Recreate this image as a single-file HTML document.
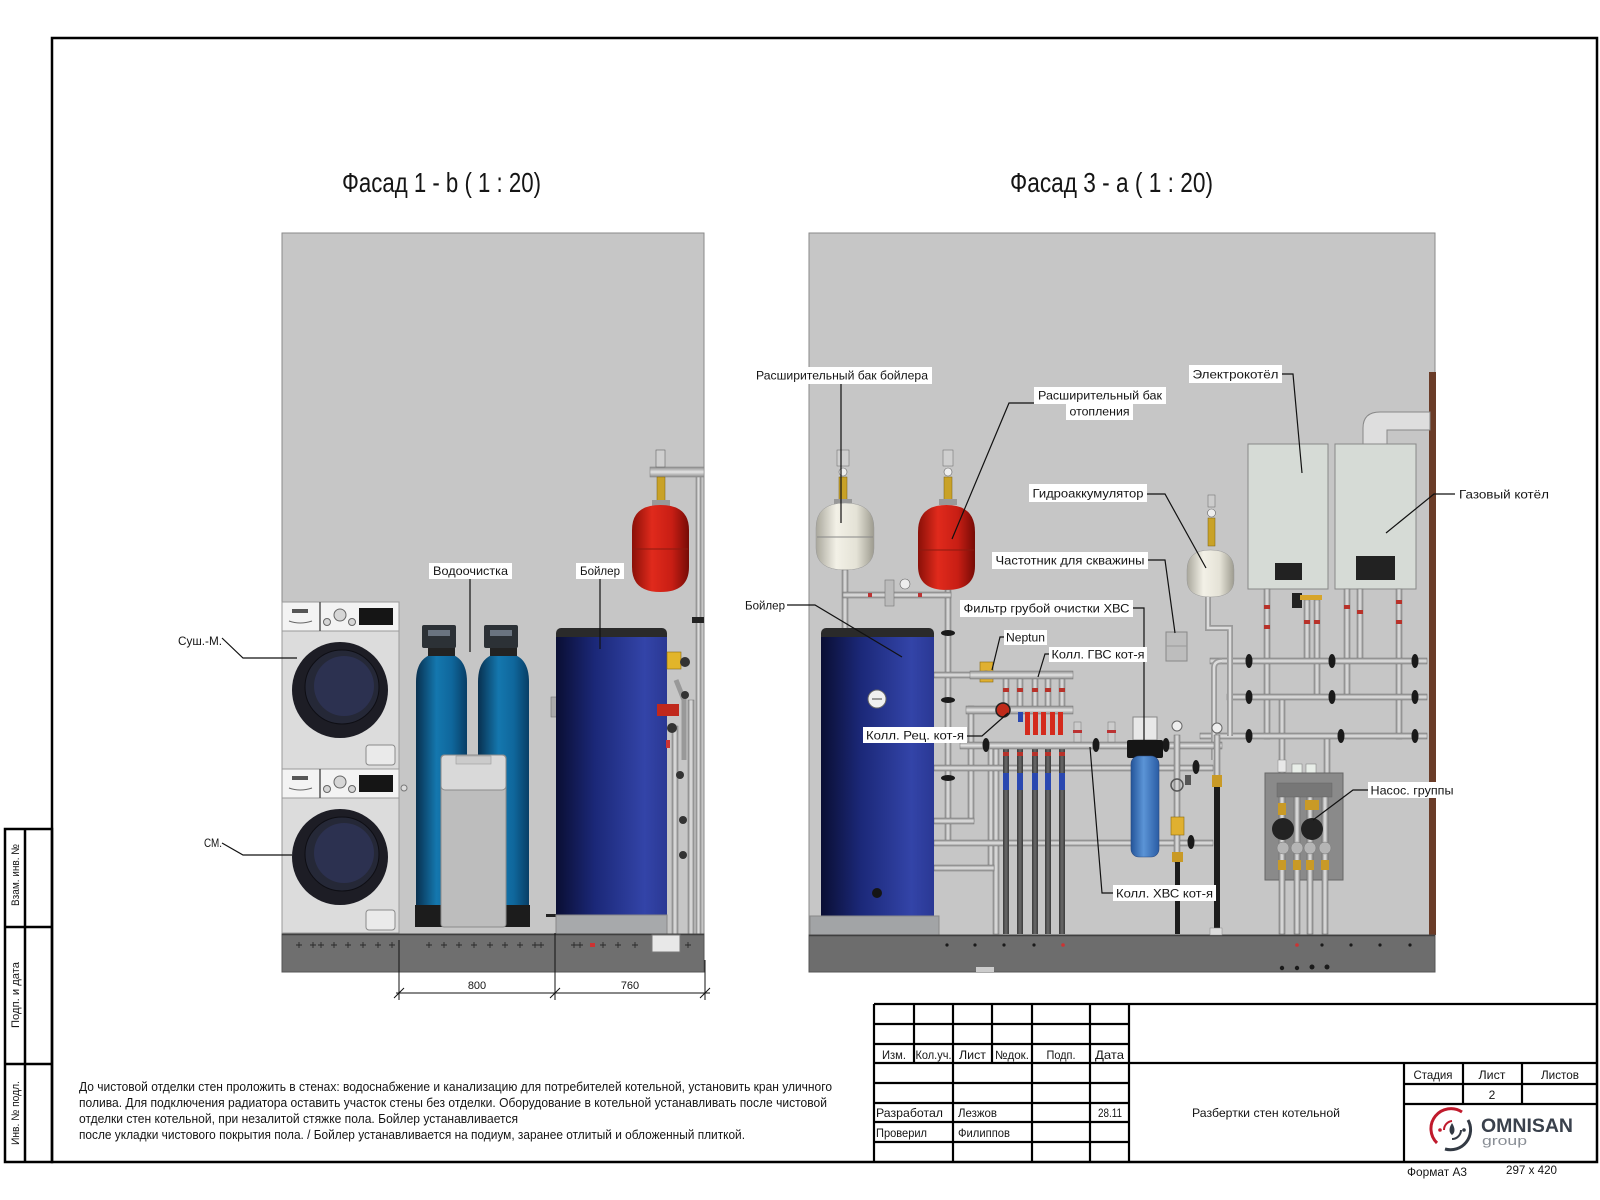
<!DOCTYPE html>
<html><head><meta charset="utf-8"><style>
html,body{margin:0;padding:0;background:#fff;}
svg{display:block;}
text{font-family:"Liberation Sans Narrow","Liberation Sans",sans-serif;fill:#151515;}
</style></head><body>
<svg width="1600" height="1200" viewBox="0 0 1600 1200" xmlns="http://www.w3.org/2000/svg">
<defs>
<linearGradient id="gBlue" x1="0" x2="1" y1="0" y2="0"><stop offset="0" stop-color="#0a0e33"/><stop offset="0.35" stop-color="#1b2878"/><stop offset="0.8" stop-color="#3344a8"/><stop offset="1" stop-color="#2a3894"/></linearGradient>
<linearGradient id="gTeal" x1="0" x2="1" y1="0" y2="0"><stop offset="0" stop-color="#08304f"/><stop offset="0.4" stop-color="#1477ae"/><stop offset="0.7" stop-color="#0f679c"/><stop offset="1" stop-color="#083e66"/></linearGradient>
<linearGradient id="gRed" x1="0" x2="1" y1="0" y2="0"><stop offset="0" stop-color="#8a1008"/><stop offset="0.35" stop-color="#e02a1c"/><stop offset="0.7" stop-color="#c81e14"/><stop offset="1" stop-color="#760b06"/></linearGradient>
<linearGradient id="gWhite" x1="0" x2="1" y1="0" y2="0"><stop offset="0" stop-color="#a9a79c"/><stop offset="0.35" stop-color="#f3f1e7"/><stop offset="0.7" stop-color="#e4e2d6"/><stop offset="1" stop-color="#9d9b8f"/></linearGradient>
<linearGradient id="gFilt" x1="0" x2="1" y1="0" y2="0"><stop offset="0" stop-color="#24559a"/><stop offset="0.45" stop-color="#5b94d6"/><stop offset="1" stop-color="#2a5ca4"/></linearGradient>
<linearGradient id="gDark" x1="0" x2="1" y1="0" y2="0"><stop offset="0" stop-color="#3a3a3a"/><stop offset="0.5" stop-color="#6a6a6a"/><stop offset="1" stop-color="#3a3a3a"/></linearGradient>
<linearGradient id="gPipe" x1="0" x2="1" y1="0" y2="0"><stop offset="0" stop-color="#8c8c8c"/><stop offset="0.5" stop-color="#e4e4e4"/><stop offset="1" stop-color="#8c8c8c"/></linearGradient>
<linearGradient id="gPipeH" x1="0" x2="0" y1="0" y2="1"><stop offset="0" stop-color="#8c8c8c"/><stop offset="0.5" stop-color="#e4e4e4"/><stop offset="1" stop-color="#8c8c8c"/></linearGradient>
</defs>
<rect width="1600" height="1200" fill="#fff"/>

<!-- frame -->
<rect x="52" y="38" width="1545" height="1124" fill="none" stroke="#000" stroke-width="2.5"/>
<!-- left stamp -->
<g stroke="#000" stroke-width="2.5" fill="none">
<rect x="5" y="829" width="47" height="333"/>
<line x1="25" y1="829" x2="25" y2="1162"/>
<line x1="5" y1="927" x2="52" y2="927"/>
<line x1="5" y1="1064" x2="52" y2="1064"/>
</g>
<text transform="translate(19,875) rotate(-90)" font-size="11" text-anchor="middle" textLength="62" lengthAdjust="spacingAndGlyphs">Взам. инв. №</text>
<text transform="translate(19,995) rotate(-90)" font-size="11" text-anchor="middle" textLength="66" lengthAdjust="spacingAndGlyphs">Подп. и дата</text>
<text transform="translate(19,1113) rotate(-90)" font-size="11" text-anchor="middle" textLength="64" lengthAdjust="spacingAndGlyphs">Инв. № подл.</text>

<!-- titles -->
<text x="342" y="192" font-size="28" textLength="199" lengthAdjust="spacingAndGlyphs">Фасад 1 - b ( 1 : 20)</text>
<text x="1010" y="192" font-size="28" textLength="203" lengthAdjust="spacingAndGlyphs">Фасад 3 - а ( 1 : 20)</text>

<!-- ================= LEFT PANEL ================= -->
<rect x="282" y="233" width="422" height="739" fill="#c6c6c6" stroke="#8a8a8a"/>

<!-- washer upper -->
<rect x="282" y="602" width="117" height="167" fill="#dcdcdc" stroke="#9a9a9a"/>
<rect x="282" y="602" width="117" height="29" fill="#f3f3f3" stroke="#9a9a9a"/>
<line x1="320" y1="602" x2="320" y2="631" stroke="#555" stroke-width="1.5"/>
<rect x="292" y="609" width="16" height="4" fill="#555"/>
<path d="M289,621 Q300,625 312,621" stroke="#666" fill="none"/>
<circle cx="340" cy="615" r="6" fill="#d6d6d6" stroke="#666"/>
<circle cx="327" cy="622" r="3.5" fill="#d6d6d6" stroke="#666"/>
<circle cx="352" cy="622" r="3.5" fill="#d6d6d6" stroke="#666"/>
<rect x="359" y="608" width="34" height="17" fill="#151515"/>
<circle cx="340" cy="690" r="48" fill="#1d1d25"/>
<circle cx="342" cy="687" r="37" fill="#252837" stroke="#0e0e14"/>
<circle cx="344" cy="686" r="30" fill="#2c3150"/>
<rect x="366" y="745" width="29" height="20" rx="3" fill="#eaeaea" stroke="#8a8a8a"/>
<!-- washer lower -->
<rect x="282" y="769" width="117" height="164" fill="#dcdcdc" stroke="#9a9a9a"/>
<rect x="282" y="769" width="117" height="29" fill="#f3f3f3" stroke="#9a9a9a"/>
<line x1="320" y1="769" x2="320" y2="798" stroke="#555" stroke-width="1.5"/>
<rect x="292" y="776" width="16" height="4" fill="#555"/>
<path d="M289,788 Q300,792 312,788" stroke="#666" fill="none"/>
<circle cx="340" cy="782" r="6" fill="#d6d6d6" stroke="#666"/>
<circle cx="327" cy="789" r="3.5" fill="#d6d6d6" stroke="#666"/>
<circle cx="352" cy="789" r="3.5" fill="#d6d6d6" stroke="#666"/>
<rect x="359" y="775" width="34" height="17" fill="#151515"/>
<circle cx="340" cy="857" r="48" fill="#1d1d25"/>
<circle cx="342" cy="854" r="37" fill="#252837" stroke="#0e0e14"/>
<circle cx="344" cy="853" r="30" fill="#2c3150"/>
<rect x="366" y="910" width="29" height="20" rx="3" fill="#eaeaea" stroke="#8a8a8a"/>
<circle cx="404" cy="788" r="3" fill="#ddd" stroke="#777"/>

<!-- filter tanks -->
<path d="M416,682 Q416,653 441.5,653 Q467,653 467,682 L467,907 L416,907 Z" fill="url(#gTeal)"/>
<rect x="415" y="905" width="53" height="22" fill="#1c1c1c"/>
<rect x="428" y="646" width="27" height="10" fill="#222"/>
<rect x="422" y="625" width="34" height="23" rx="2" fill="#2c3136"/>
<rect x="428" y="630" width="22" height="6" fill="#6a7480"/>
<path d="M478,682 Q478,653 503.5,653 Q529,653 529,682 L529,907 L478,907 Z" fill="url(#gTeal)"/>
<rect x="477" y="905" width="53" height="22" fill="#1c1c1c"/>
<rect x="490" y="646" width="27" height="10" fill="#222"/>
<rect x="484" y="625" width="34" height="23" rx="2" fill="#2c3136"/>
<rect x="490" y="630" width="22" height="6" fill="#6a7480"/>
<!-- salt tank -->
<rect x="441" y="755" width="65" height="172" rx="3" fill="#bdbdbd" stroke="#8c8c8c"/>
<rect x="441" y="755" width="65" height="35" rx="4" fill="#d9d9d9" stroke="#8c8c8c"/>
<rect x="456" y="756" width="35" height="8" fill="#cbcbcb" stroke="#999" stroke-width="0.6"/>

<!-- boiler left -->
<rect x="551" y="697" width="6" height="20" fill="#aaa" stroke="#777" stroke-width="0.6"/>
<rect x="546" y="914" width="10" height="3" fill="#222"/>
<rect x="556" y="628" width="111" height="14" rx="5" fill="#2a2a2a"/>
<rect x="556" y="637" width="111" height="278" fill="url(#gBlue)"/>
<rect x="556" y="915" width="111" height="19" fill="#a7a9ab" stroke="#888"/>

<!-- left pipes & tank -->
<rect x="696" y="469" width="5" height="465" fill="url(#gPipe)" stroke="#777" stroke-width="0.5"/>
<rect x="650" y="467" width="54" height="10" fill="url(#gPipeH)" stroke="#888" stroke-width="0.6"/>
<rect x="656" y="450" width="9" height="17" fill="#cfcfcf" stroke="#666" stroke-width="0.6"/>
<rect x="657" y="477" width="8" height="27" fill="#c9a227" stroke="#7a6010" stroke-width="0.5"/>
<rect x="652" y="500" width="18" height="6" fill="#999"/>
<path d="M632,530 Q632,505 660.5,505 Q689,505 689,530 L689,567 Q689,592 660.5,592 Q632,592 632,567 Z" fill="url(#gRed)"/>
<line x1="633" y1="549" x2="688" y2="549" stroke="#8a1a10" stroke-width="1"/>
<rect x="692" y="617" width="12" height="6" fill="#222"/>
<rect x="672" y="726" width="6" height="208" fill="url(#gPipe)" stroke="#777" stroke-width="0.5"/>
<rect x="688" y="700" width="6" height="234" fill="url(#gPipe)" stroke="#777" stroke-width="0.5"/>
<path d="M676,680 L684,700 L684,760" stroke="#999" stroke-width="5" fill="none"/>
<rect x="667" y="652" width="14" height="17" fill="#e2b52a" stroke="#8a6b10" stroke-width="0.6"/>
<rect x="657" y="704" width="22" height="12" fill="#c0281c"/>
<circle cx="672" cy="728" r="5" fill="#333"/>
<circle cx="685" cy="662" r="5" fill="#333"/>
<circle cx="685" cy="695" r="4" fill="#333"/>
<circle cx="680" cy="775" r="4" fill="#333"/>
<circle cx="683" cy="820" r="4" fill="#333"/>
<circle cx="683" cy="855" r="4" fill="#333"/>
<rect x="666" y="740" width="4" height="8" fill="#c33"/>
<!-- left floor -->
<rect x="282" y="934" width="422" height="38" fill="#6f6f6f" stroke="#555"/>
<line x1="282" y1="934.5" x2="704" y2="934.5" stroke="#3f3f3f" stroke-width="1.5"/>
<rect x="652" y="935" width="28" height="17" fill="#e8e8e8" stroke="#777"/>
<g stroke="#2a2a2a" stroke-width="0.9">
<path d="M296,945h6M299,942v6M310,945h6M313,942v6M318,945h6M321,942v6M331,945h6M334,942v6M345,945h6M348,942v6M360,945h6M363,942v6M375,945h6M378,942v6M389,945h6M392,942v6M426,945h6M429,942v6M441,945h6M444,942v6M456,945h6M459,942v6M471,945h6M474,942v6M487,945h6M490,942v6M502,945h6M505,942v6M517,945h6M520,942v6M532,945h6M535,942v6M538,945h6M541,942v6M571,945h6M574,942v6M577,945h6M580,942v6M600,945h6M603,942v6M615,945h6M618,942v6M632,945h6M635,942v6M685,945h6M688,942v6"/>
</g>
<rect x="590" y="943" width="5" height="4" fill="#c33"/>

<!-- left dimension -->
<g stroke="#111" stroke-width="1">
<line x1="396" y1="993" x2="710" y2="993"/>
<line x1="399" y1="940" x2="399" y2="1000"/>
<line x1="555" y1="933" x2="555" y2="1000"/>
<line x1="705" y1="960" x2="705" y2="1000"/>
<line x1="394" y1="998" x2="404" y2="988"/>
<line x1="550" y1="998" x2="560" y2="988"/>
<line x1="700" y1="998" x2="710" y2="988"/>
</g>
<text x="477" y="989" font-size="11" text-anchor="middle">800</text>
<text x="630" y="989" font-size="11" text-anchor="middle">760</text>

<!-- left labels -->
<g stroke="#111" stroke-width="1.2" fill="none">
<line x1="470" y1="579" x2="470" y2="652"/>
<line x1="600" y1="579" x2="600" y2="649"/>
<polyline points="222,638 243,658 297,658"/>
<polyline points="222,843 243,855 292,855"/>
</g>
<rect x="429" y="563" width="83" height="16" fill="#fff"/>
<text x="470.5" y="575" font-size="12" text-anchor="middle" textLength="75" lengthAdjust="spacingAndGlyphs">Водоочистка</text>
<rect x="576" y="563" width="48" height="16" fill="#fff"/>
<text x="600" y="575" font-size="12" text-anchor="middle" textLength="40" lengthAdjust="spacingAndGlyphs">Бойлер</text>
<text x="178" y="645" font-size="12" textLength="44" lengthAdjust="spacingAndGlyphs">Суш.-М.</text>
<text x="204" y="847" font-size="12" textLength="18" lengthAdjust="spacingAndGlyphs">СМ.</text>

<!-- ================= RIGHT PANEL ================= -->
<rect x="809" y="233" width="626" height="739" fill="#c6c6c6" stroke="#8a8a8a"/>
<rect x="1429" y="372" width="7" height="563" fill="#6a3c28"/>

<!-- flue -->
<path d="M1363,444 L1363,428 Q1363,412 1380,412 L1430,412 L1430,430 L1387,430 L1387,444 Z" fill="#dedede" stroke="#888"/>
<!-- boilers -->
<rect x="1248" y="444" width="80" height="145" fill="#d6dbd6" stroke="#888"/>
<rect x="1275" y="563" width="27" height="17" fill="#222"/>
<rect x="1335" y="444" width="81" height="145" fill="#d6dbd6" stroke="#888"/>
<rect x="1356" y="556" width="39" height="24" fill="#222"/>

<!-- vertical pipes from boilers -->
<g fill="url(#gPipe)" stroke="#777" stroke-width="0.5">
<rect x="1264" y="589" width="6" height="150"/>
<rect x="1304" y="600" width="6" height="62"/>
<rect x="1314" y="600" width="6" height="98"/>
<rect x="1344" y="589" width="6" height="109"/>
<rect x="1357" y="589" width="6" height="73"/>
<rect x="1396" y="589" width="6" height="150"/>
<rect x="1279" y="697" width="6" height="80"/>
<rect x="1324" y="736" width="6" height="41"/>
</g>
<rect x="1292" y="593" width="10" height="15" fill="#222"/>
<rect x="1300" y="595" width="22" height="5" fill="#d7a52a"/>
<g fill="#b8322a">
<rect x="1264" y="605" width="6" height="4"/><rect x="1264" y="625" width="6" height="4"/>
<rect x="1304" y="620" width="6" height="4"/><rect x="1314" y="620" width="6" height="4"/>
<rect x="1344" y="605" width="6" height="4"/><rect x="1357" y="610" width="6" height="4"/>
<rect x="1396" y="600" width="6" height="4"/><rect x="1396" y="620" width="6" height="4"/>
</g>

<!-- horizontal pipes right -->
<g fill="url(#gPipeH)" stroke="#777" stroke-width="0.5">
<rect x="1210" y="658" width="217" height="6"/>
<rect x="1227" y="694" width="200" height="6"/>
<rect x="1200" y="733" width="227" height="6"/>
</g>
<g fill="#1a1a1a">
<ellipse cx="1249" cy="661" rx="3.5" ry="7"/><ellipse cx="1332" cy="661" rx="3.5" ry="7"/><ellipse cx="1415" cy="661" rx="3.5" ry="7"/>
<ellipse cx="1249" cy="697" rx="3.5" ry="7"/><ellipse cx="1332" cy="697" rx="3.5" ry="7"/><ellipse cx="1415" cy="697" rx="3.5" ry="7"/>
<ellipse cx="1249" cy="736" rx="3.5" ry="7"/><ellipse cx="1341" cy="736" rx="3.5" ry="7"/><ellipse cx="1415" cy="736" rx="3.5" ry="7"/>
</g>

<!-- hydroaccumulator -->
<rect x="1208" y="495" width="7" height="12" fill="#ccc" stroke="#666" stroke-width="0.5"/>
<circle cx="1211.5" cy="513" r="4" fill="#eee" stroke="#666" stroke-width="0.6"/>
<rect x="1208" y="518" width="7" height="28" fill="#c9a227" stroke="#7a6010" stroke-width="0.5"/>
<path d="M1187,570 Q1187,550 1210.5,550 Q1234,550 1234,570 L1234,580 Q1234,597 1210.5,597 Q1187,597 1187,580 Z" fill="url(#gWhite)" stroke="#999" stroke-width="0.5"/>
<path d="M1208,597 L1208,628 L1230,628 L1230,736" stroke="#9a9a9a" stroke-width="6" fill="none"/>
<path d="M1208,597 L1208,628 L1230,628 L1230,736" stroke="#dcdcdc" stroke-width="2.5" fill="none"/>
<path d="M1214,760 L1214,668 Q1214,661 1222,661" stroke="#9a9a9a" stroke-width="6" fill="none"/>
<path d="M1214,760 L1214,668 Q1214,661 1222,661" stroke="#dcdcdc" stroke-width="2.5" fill="none"/>
<!-- chastotnik -->
<rect x="1166" y="632" width="21" height="29" fill="#bdbdbd" stroke="#888"/>
<line x1="1166" y1="646" x2="1187" y2="646" stroke="#999"/>

<!-- pump group -->
<rect x="1278" y="760" width="8" height="12" fill="#e8e8e8" stroke="#888" stroke-width="0.5"/>
<rect x="1292" y="764" width="10" height="10" fill="#e8eee8" stroke="#777" stroke-width="0.5"/>
<rect x="1306" y="764" width="10" height="10" fill="#e8eee8" stroke="#777" stroke-width="0.5"/>
<rect x="1265" y="773" width="78" height="107" fill="#8a8a8a" stroke="#666"/>
<rect x="1277" y="783" width="55" height="14" fill="#777" stroke="#666" stroke-width="0.5"/>
<g fill="url(#gPipe)" stroke="#666" stroke-width="0.5">
<rect x="1279" y="797" width="6" height="137"/><rect x="1294" y="797" width="6" height="137"/>
<rect x="1307" y="797" width="6" height="137"/><rect x="1322" y="797" width="6" height="137"/>
</g>
<g fill="#c99a26">
<rect x="1278" y="803" width="8" height="12"/><rect x="1305" y="800" width="14" height="10"/>
<rect x="1278" y="860" width="8" height="10"/><rect x="1293" y="860" width="8" height="10"/>
<rect x="1306" y="860" width="8" height="10"/><rect x="1321" y="860" width="8" height="10"/>
</g>
<circle cx="1283" cy="829" r="11" fill="#222"/>
<circle cx="1312" cy="829" r="11" fill="#222"/>
<g fill="#b5b5b5" stroke="#777" stroke-width="0.5">
<circle cx="1283" cy="848" r="6"/><circle cx="1297" cy="848" r="6"/><circle cx="1310" cy="848" r="6"/><circle cx="1325" cy="848" r="6"/>
</g>

<!-- electric boiler label leaders etc later -->

<!-- expansion tanks right -->
<rect x="837" y="450" width="12" height="16" fill="#cfcfcf" stroke="#666" stroke-width="0.5"/>
<circle cx="843" cy="472" r="4" fill="#eee" stroke="#666" stroke-width="0.6"/>
<rect x="839" y="477" width="8" height="24" fill="#c9a227" stroke="#7a6010" stroke-width="0.5"/>
<rect x="834" y="499" width="18" height="6" fill="#999"/>
<path d="M816,528 Q816,503 845,503 Q874,503 874,528 L874,548 Q874,570 845,570 Q816,570 816,548 Z" fill="url(#gWhite)" stroke="#999" stroke-width="0.5"/>
<line x1="817" y1="537" x2="873" y2="537" stroke="#888"/>
<rect x="943" y="450" width="10" height="16" fill="#cfcfcf" stroke="#666" stroke-width="0.5"/>
<circle cx="948" cy="472" r="4" fill="#eee" stroke="#666" stroke-width="0.6"/>
<rect x="944" y="477" width="8" height="24" fill="#c9a227" stroke="#7a6010" stroke-width="0.5"/>
<rect x="939" y="499" width="18" height="6" fill="#999"/>
<path d="M918,532 Q918,505 946.5,505 Q975,505 975,532 L975,566 Q975,590 946.5,590 Q918,590 918,566 Z" fill="url(#gRed)"/>
<line x1="919" y1="550" x2="974" y2="550" stroke="#8a1a10"/>

<!-- light pipes left area -->
<g fill="url(#gPipe)" stroke="#777" stroke-width="0.5">
<rect x="842" y="570" width="6" height="60"/>
<rect x="945" y="590" width="6" height="255"/>
<rect x="968" y="706" width="6" height="116"/>
<rect x="988" y="745" width="6" height="125"/>
<rect x="993" y="749" width="6" height="185"/>
</g>
<g fill="url(#gPipeH)" stroke="#777" stroke-width="0.5">
<rect x="843" y="592" width="108" height="6"/>
<rect x="934" y="672" width="48" height="6"/>
<rect x="934" y="765" width="279" height="6"/>
<rect x="934" y="818" width="40" height="6"/>
<rect x="934" y="840" width="279" height="6"/>
<rect x="934" y="865" width="60" height="6"/>
</g>
<rect x="885" y="580" width="9" height="26" fill="#bbb" stroke="#777" stroke-width="0.6"/>
<circle cx="905" cy="584" r="5" fill="#eee" stroke="#666" stroke-width="0.6"/>
<rect x="868" y="593" width="4" height="4" fill="#b33"/><rect x="918" y="593" width="4" height="4" fill="#b33"/>
<ellipse cx="948" cy="633" rx="7" ry="3" fill="#1a1a1a"/>
<ellipse cx="948" cy="778" rx="7" ry="3" fill="#1a1a1a"/>

<!-- boiler right -->
<rect x="821" y="628" width="113" height="14" rx="5" fill="#2a2a2a"/>
<rect x="821" y="637" width="113" height="279" fill="url(#gBlue)"/>
<circle cx="877" cy="699" r="9" fill="#f0f0f0" stroke="#666"/>
<line x1="872" y1="699" x2="882" y2="699" stroke="#444"/>
<circle cx="877" cy="893" r="5" fill="#151515"/>
<rect x="810" y="916" width="129" height="19" fill="#a2a4a6" stroke="#888"/>

<!-- manifolds -->
<rect x="980" y="662" width="13" height="20" fill="#e0b030" stroke="#8a6b10" stroke-width="0.6"/>
<circle cx="986" cy="674" r="3.5" fill="#777"/>
<rect x="970" y="671" width="103" height="8" fill="url(#gPipeH)" stroke="#777" stroke-width="0.5"/>
<g fill="url(#gPipe)" stroke="#777" stroke-width="0.5">
<rect x="1003" y="679" width="6" height="28"/><rect x="1017" y="679" width="6" height="28"/>
<rect x="1032" y="679" width="6" height="28"/><rect x="1045" y="679" width="6" height="28"/><rect x="1059" y="679" width="6" height="28"/>
</g>
<g fill="#b8322a">
<rect x="1003" y="688" width="6" height="4"/><rect x="1017" y="688" width="6" height="4"/><rect x="1032" y="688" width="6" height="4"/><rect x="1045" y="688" width="6" height="4"/><rect x="1059" y="688" width="6" height="4"/>
</g>
<rect x="966" y="706" width="107" height="8" fill="url(#gPipeH)" stroke="#777" stroke-width="0.5"/>
<g fill="#d42a1c">
<rect x="1025" y="712" width="5" height="23"/><rect x="1033" y="712" width="5" height="23"/><rect x="1041" y="712" width="5" height="23"/><rect x="1050" y="712" width="5" height="23"/><rect x="1058" y="712" width="5" height="23"/>
</g>
<rect x="1018" y="712" width="5" height="10" fill="#2a48b0"/>
<circle cx="1003" cy="710" r="7" fill="#c02a1a" stroke="#222" stroke-width="1.5"/>
<g fill="url(#gDark)">
<rect x="1003" y="749" width="6" height="185"/><rect x="1017" y="749" width="6" height="185"/><rect x="1032" y="749" width="6" height="185"/><rect x="1045" y="749" width="6" height="185"/><rect x="1059" y="749" width="6" height="185"/>
</g>
<g fill="#2a48b0">
<rect x="1003" y="773" width="6" height="17"/><rect x="1017" y="773" width="6" height="17"/><rect x="1032" y="773" width="6" height="17"/><rect x="1045" y="773" width="6" height="17"/><rect x="1059" y="773" width="6" height="17"/>
</g>
<rect x="960" y="742" width="262" height="7" fill="url(#gPipeH)" stroke="#777" stroke-width="0.5"/>
<g fill="#b8322a">
<rect x="1003" y="752" width="6" height="4"/><rect x="1017" y="752" width="6" height="4"/><rect x="1032" y="752" width="6" height="4"/><rect x="1045" y="752" width="6" height="4"/><rect x="1059" y="752" width="6" height="4"/>
</g>
<rect x="1074" y="722" width="7" height="20" fill="#ccc" stroke="#777" stroke-width="0.5"/>
<rect x="1108" y="722" width="7" height="20" fill="#ccc" stroke="#777" stroke-width="0.5"/>
<rect x="1073" y="730" width="9" height="3" fill="#b33"/><rect x="1107" y="730" width="9" height="3" fill="#b33"/>
<g fill="#1a1a1a">
<ellipse cx="986" cy="745" rx="3.5" ry="7"/><ellipse cx="1096" cy="745" rx="3.5" ry="7"/><ellipse cx="1166" cy="745" rx="3.5" ry="7"/><ellipse cx="1196" cy="767" rx="3.5" ry="7"/><ellipse cx="1191" cy="842" rx="3.5" ry="7"/><ellipse cx="948" cy="700" rx="7" ry="3"/>
</g>

<!-- filter -->
<rect x="1133" y="717" width="24" height="23" fill="#e8e8e8" stroke="#888"/>
<rect x="1127" y="740" width="36" height="18" rx="2" fill="#151515"/>
<rect x="1131" y="756" width="28" height="101" rx="8" fill="url(#gFilt)" stroke="#2a4a80" stroke-width="0.6"/>

<!-- right valves -->
<rect x="1174" y="735" width="6" height="127" fill="url(#gPipe)" stroke="#777" stroke-width="0.5"/>
<circle cx="1177" cy="726" r="5" fill="#eee" stroke="#666"/>
<circle cx="1177" cy="785" r="6" fill="none" stroke="#555" stroke-width="1.5"/>
<rect x="1171" y="817" width="13" height="18" fill="#e0b030" stroke="#8a6b10" stroke-width="0.6"/>
<rect x="1172" y="852" width="11" height="10" fill="#c99a26"/>
<rect x="1175" y="862" width="5" height="72" fill="#1c1c1c"/>
<rect x="1214" y="735" width="6" height="45" fill="url(#gPipe)" stroke="#777" stroke-width="0.5"/>
<circle cx="1217" cy="728" r="5" fill="#eee" stroke="#666"/>
<rect x="1212" y="775" width="10" height="12" fill="#c99a26"/>
<rect x="1214" y="787" width="6" height="147" fill="#1c1c1c"/>
<rect x="1185" y="775" width="6" height="10" fill="#555"/>

<!-- right floor -->
<rect x="809" y="935" width="626" height="37" fill="#6d6d6d" stroke="#555"/>
<line x1="809" y1="935.5" x2="1435" y2="935.5" stroke="#3f3f3f" stroke-width="1.5"/>
<rect x="1210" y="928" width="12" height="7" fill="#ddd" stroke="#888" stroke-width="0.5"/>
<rect x="976" y="967" width="18" height="5" fill="#ccc"/>
<g fill="#1a1a1a">
<circle cx="947" cy="945" r="1.6"/><circle cx="975" cy="945" r="1.6"/><circle cx="1004" cy="945" r="1.6"/><circle cx="1034" cy="945" r="1.6"/>
<circle cx="1322" cy="945" r="1.6"/><circle cx="1351" cy="945" r="1.6"/><circle cx="1380" cy="945" r="1.6"/><circle cx="1410" cy="945" r="1.6"/>
<circle cx="1282" cy="968" r="2.2"/><circle cx="1297" cy="968" r="2.2"/><circle cx="1312" cy="967" r="2.5"/><circle cx="1327" cy="967" r="2.5"/>
</g>
<circle cx="1063" cy="945" r="1.8" fill="#c33"/><circle cx="1297" cy="945" r="1.8" fill="#c33"/>

<!-- right leaders -->
<g stroke="#111" stroke-width="1.2" fill="none">
<line x1="841" y1="383" x2="841" y2="523"/>
<polyline points="1034,403 1009,403 952,539"/>
<polyline points="1282,374 1293,374 1302,473"/>
<polyline points="1455,494 1434,494 1386,533"/>
<polyline points="1147,494 1165,494 1206,568"/>
<polyline points="1148,560 1165,560 1175,633"/>
<polyline points="1133,608 1144,608 1144,740"/>
<polyline points="787,605 815,605 902,657"/>
<polyline points="1004,637 1000,637 992,670"/>
<polyline points="1049,654 1045,654 1038,677"/>
<polyline points="967,736 982,736 1008,713"/>
<polyline points="1113,893 1102,893 1090,747"/>
<polyline points="1368,790 1353,790 1313,820"/>
</g>

<!-- right labels -->
<rect x="752" y="367" width="180" height="17" fill="#fff"/>
<text x="842" y="379.5" font-size="12" text-anchor="middle" textLength="172" lengthAdjust="spacingAndGlyphs">Расширительный бак бойлера</text>
<rect x="1034" y="387" width="132" height="17" fill="#fff"/>
<text x="1100" y="399.5" font-size="12" text-anchor="middle" textLength="124" lengthAdjust="spacingAndGlyphs">Расширительный бак</text>
<rect x="1066" y="403" width="67" height="17" fill="#fff"/>
<text x="1099.5" y="415.5" font-size="12" text-anchor="middle" textLength="60" lengthAdjust="spacingAndGlyphs">отопления</text>
<rect x="1189" y="365" width="93" height="18" fill="#fff"/>
<text x="1235.5" y="378.5" font-size="12" text-anchor="middle" textLength="86" lengthAdjust="spacingAndGlyphs">Электрокотёл</text>
<text x="1459" y="498.5" font-size="12" textLength="90" lengthAdjust="spacingAndGlyphs">Газовый котёл</text>
<rect x="1029" y="484" width="118" height="18" fill="#fff"/>
<text x="1088" y="497.5" font-size="12" text-anchor="middle" textLength="111" lengthAdjust="spacingAndGlyphs">Гидроаккумулятор</text>
<rect x="992" y="552" width="156" height="17" fill="#fff"/>
<text x="1070" y="564.5" font-size="12" text-anchor="middle" textLength="149" lengthAdjust="spacingAndGlyphs">Частотник для скважины</text>
<rect x="960" y="600" width="173" height="17" fill="#fff"/>
<text x="1046.5" y="612.5" font-size="12" text-anchor="middle" textLength="166" lengthAdjust="spacingAndGlyphs">Фильтр грубой очистки ХВС</text>
<rect x="743" y="598" width="44" height="15" fill="#fff"/>
<text x="765" y="609.5" font-size="12" text-anchor="middle" textLength="40" lengthAdjust="spacingAndGlyphs">Бойлер</text>
<rect x="1004" y="630" width="43" height="15" fill="#fff"/>
<text x="1025.5" y="641.5" font-size="12" text-anchor="middle" textLength="39" lengthAdjust="spacingAndGlyphs">Neptun</text>
<rect x="1049" y="647" width="98" height="15" fill="#fff"/>
<text x="1098" y="658.5" font-size="12" text-anchor="middle" textLength="93" lengthAdjust="spacingAndGlyphs">Колл. ГВС кот-я</text>
<rect x="863" y="727" width="104" height="16" fill="#fff"/>
<text x="915" y="739.5" font-size="12" text-anchor="middle" textLength="98" lengthAdjust="spacingAndGlyphs">Колл. Рец. кот-я</text>
<rect x="1113" y="885" width="103" height="16" fill="#fff"/>
<text x="1164.5" y="897.5" font-size="12" text-anchor="middle" textLength="97" lengthAdjust="spacingAndGlyphs">Колл. ХВС кот-я</text>
<rect x="1368" y="782" width="88" height="16" fill="#fff"/>
<text x="1412" y="794.5" font-size="12" text-anchor="middle" textLength="83" lengthAdjust="spacingAndGlyphs">Насос. группы</text>

<!-- ================= NOTES ================= -->
<g font-size="12.5">
<text x="79" y="1091" textLength="753" lengthAdjust="spacingAndGlyphs">До чистовой отделки стен проложить в стенах: водоснабжение и канализацию для потребителей котельной, установить кран уличного</text>
<text x="79" y="1107" textLength="748" lengthAdjust="spacingAndGlyphs">полива. Для подключения радиатора оставить участок стены без отделки. Оборудование в котельной устанавливать после чистовой</text>
<text x="79" y="1123" textLength="439" lengthAdjust="spacingAndGlyphs">отделки стен котельной, при незалитой стяжке пола. Бойлер устанавливается</text>
<text x="79" y="1139" textLength="666" lengthAdjust="spacingAndGlyphs">после укладки чистового покрытия пола. / Бойлер устанавливается на подиум, заранее отлитый и обложенный плиткой.</text>
</g>

<!-- ================= TITLE BLOCK ================= -->
<g stroke="#000" stroke-width="2.2" fill="none">
<line x1="874" y1="1004" x2="1597" y2="1004"/>
<line x1="874" y1="1004" x2="874" y2="1162"/>
<line x1="874" y1="1024" x2="1129" y2="1024"/>
<line x1="874" y1="1044" x2="1129" y2="1044"/>
<line x1="874" y1="1063" x2="1597" y2="1063"/>
<line x1="874" y1="1083" x2="1129" y2="1083"/>
<line x1="874" y1="1103" x2="1129" y2="1103"/>
<line x1="874" y1="1122" x2="1129" y2="1122"/>
<line x1="874" y1="1142" x2="1129" y2="1142"/>
<line x1="914" y1="1004" x2="914" y2="1063"/>
<line x1="953" y1="1004" x2="953" y2="1162"/>
<line x1="992" y1="1004" x2="992" y2="1063"/>
<line x1="1032" y1="1004" x2="1032" y2="1162"/>
<line x1="1090" y1="1004" x2="1090" y2="1162"/>
<line x1="1129" y1="1004" x2="1129" y2="1162"/>
<line x1="1404" y1="1063" x2="1404" y2="1162"/>
<line x1="1404" y1="1084" x2="1597" y2="1084"/>
<line x1="1404" y1="1104" x2="1597" y2="1104"/>
<line x1="1463" y1="1063" x2="1463" y2="1104"/>
<line x1="1522" y1="1063" x2="1522" y2="1104"/>
</g>
<g font-size="12">
<text x="894" y="1059" text-anchor="middle" textLength="24" lengthAdjust="spacingAndGlyphs">Изм.</text>
<text x="933.5" y="1059" text-anchor="middle" textLength="36" lengthAdjust="spacingAndGlyphs">Кол.уч.</text>
<text x="972.5" y="1059" text-anchor="middle" textLength="27" lengthAdjust="spacingAndGlyphs">Лист</text>
<text x="1012" y="1059" text-anchor="middle" textLength="34" lengthAdjust="spacingAndGlyphs">№док.</text>
<text x="1061" y="1059" text-anchor="middle" textLength="29" lengthAdjust="spacingAndGlyphs">Подп.</text>
<text x="1109.5" y="1059" text-anchor="middle" textLength="29" lengthAdjust="spacingAndGlyphs">Дата</text>
<text x="876" y="1117" textLength="67" lengthAdjust="spacingAndGlyphs">Разработал</text>
<text x="958" y="1117" textLength="39" lengthAdjust="spacingAndGlyphs">Лезжов</text>
<text x="1110" y="1117" text-anchor="middle" textLength="24" lengthAdjust="spacingAndGlyphs">28.11</text>
<text x="876" y="1137" textLength="51" lengthAdjust="spacingAndGlyphs">Проверил</text>
<text x="958" y="1137" textLength="52" lengthAdjust="spacingAndGlyphs">Филиппов</text>
<text x="1192" y="1117" textLength="148" lengthAdjust="spacingAndGlyphs">Разбертки стен котельной</text>
<text x="1433" y="1079" text-anchor="middle" textLength="39" lengthAdjust="spacingAndGlyphs">Стадия</text>
<text x="1492" y="1079" text-anchor="middle" textLength="27" lengthAdjust="spacingAndGlyphs">Лист</text>
<text x="1560" y="1079" text-anchor="middle" textLength="38" lengthAdjust="spacingAndGlyphs">Листов</text>
<text x="1492" y="1099" text-anchor="middle">2</text>
</g>
<!-- logo -->
<g fill="none" stroke-width="3">
<path d="M1437,1143 A20,20 0 0 1 1462,1112" stroke="#c01a2c"/>
<path d="M1468,1120 A20,20 0 0 1 1445,1149" stroke="#333a44"/>
<path d="M1444,1130 A9,9 0 0 1 1452,1121" stroke="#c01a2c" stroke-width="2"/>
<path d="M1461,1130 A9,9 0 0 1 1452,1139" stroke="#333a44" stroke-width="2"/>
</g>
<path d="M1452,1123 Q1457,1131 1452,1135 Q1447,1131 1452,1123 Z" fill="#333a44"/>
<circle cx="1440" cy="1130" r="1.8" fill="#c01a2c"/>
<circle cx="1464" cy="1130" r="1.8" fill="#333a44"/>
<text x="1481" y="1132" font-size="19" font-weight="bold" fill="#3a414c" textLength="92" lengthAdjust="spacingAndGlyphs" style="fill:#3a414c">OMNISAN</text>
<text x="1482" y="1145" font-size="13" textLength="45" lengthAdjust="spacingAndGlyphs" style="fill:#8a8f96">group</text>

<text x="1407" y="1176" font-size="11.5" textLength="60" lengthAdjust="spacingAndGlyphs">Формат А3</text>
<text x="1506" y="1174" font-size="11.5" textLength="51" lengthAdjust="spacingAndGlyphs">297 x 420</text>
</svg>
</body></html>
